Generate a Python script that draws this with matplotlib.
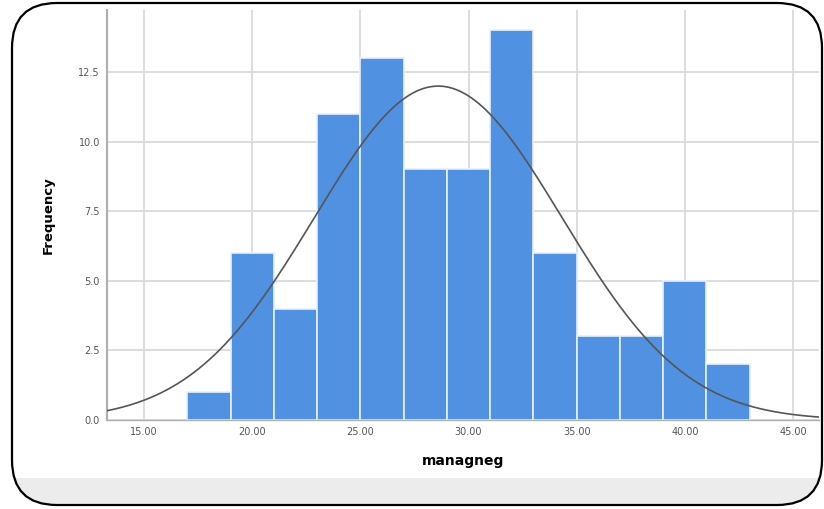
import numpy as np
import matplotlib
matplotlib.use("Agg")
import matplotlib.pyplot as plt
from matplotlib.patches import FancyBboxPatch, Rectangle

# histogram data
bin_edges = [17, 19, 21, 23, 25, 27, 29, 31, 33, 35, 37, 39, 41, 43]
counts = [1, 6, 4, 11, 13, 9, 9, 14, 6, 3, 3, 5, 2]
x_ticks = [15, 20, 25, 30, 35, 40, 45]
y_ticks = [0.0, 2.5, 5.0, 7.5, 10.0, 12.5]

# fitted normal curve
mean_val = 28.6
sd_val = 5.72

W, H = 824, 509
fig = plt.figure(figsize=(W / 100, H / 100), dpi=100)

# background frame (pixel coords)
bg = fig.add_axes([0, 0, 1, 1], zorder=-1)
bg.set_xlim(0, W)
bg.set_ylim(H, 0)
bg.axis("off")
frame = FancyBboxPatch((12, 3), 810, 502, boxstyle="round,pad=0,rounding_size=45",
                       facecolor="white", edgecolor="none")
bg.add_patch(frame)
strip = Rectangle((0, 478), W, 40, facecolor="#ececec", edgecolor="none")
bg.add_patch(strip)
strip.set_clip_path(frame)
edge = FancyBboxPatch((12, 3), 810, 502, boxstyle="round,pad=0,rounding_size=45",
                      facecolor="none", edgecolor="black", linewidth=1.6)
bg.add_patch(edge)

ax = fig.add_axes([107 / W, 1 - 420 / H, (819 - 107) / W, (420 - 10) / H])
ax.set_facecolor("none")

widths = np.diff(bin_edges)
ax.bar(bin_edges[:-1], counts, width=widths, align="edge",
       color="#5191e2", edgecolor="#e8f0fb", linewidth=1.2, zorder=2)

xs = np.linspace(13.0, 46.5, 400)
bw = bin_edges[1] - bin_edges[0]
ys = sum(counts) * bw / (sd_val * np.sqrt(2 * np.pi)) * np.exp(-0.5 * ((xs - mean_val) / sd_val) ** 2)
ax.plot(xs, ys, color="#555555", linewidth=1.2, zorder=3)

ax.set_xlim(13.29, 46.2)
ax.set_ylim(0, 14.73)
ax.set_xticks(x_ticks)
ax.set_xticklabels([f"{v:.2f}" for v in x_ticks])
ax.set_yticks(y_ticks)
ax.set_yticklabels([f"{v:.1f}" for v in y_ticks])
ax.tick_params(length=0, labelsize=7, colors="#555555", pad=5)
ax.grid(True, color="#dadada", linewidth=1.3, zorder=0)
ax.set_axisbelow(True)
for s in ["top", "right"]:
    ax.spines[s].set_visible(False)
ax.spines["left"].set_color("#b0b0b0")
ax.spines["left"].set_linewidth(1.6)
ax.spines["bottom"].set_color("#b0b0b0")
ax.spines["bottom"].set_linewidth(1.0)

ax.set_xlabel("managneg", fontsize=10, fontweight="bold", labelpad=12)
ax.set_ylabel("Frequency", fontsize=9.5, fontfamily="Liberation Sans Narrow",
              fontweight="bold", labelpad=17)

plt.savefig("out.png", dpi=100)
